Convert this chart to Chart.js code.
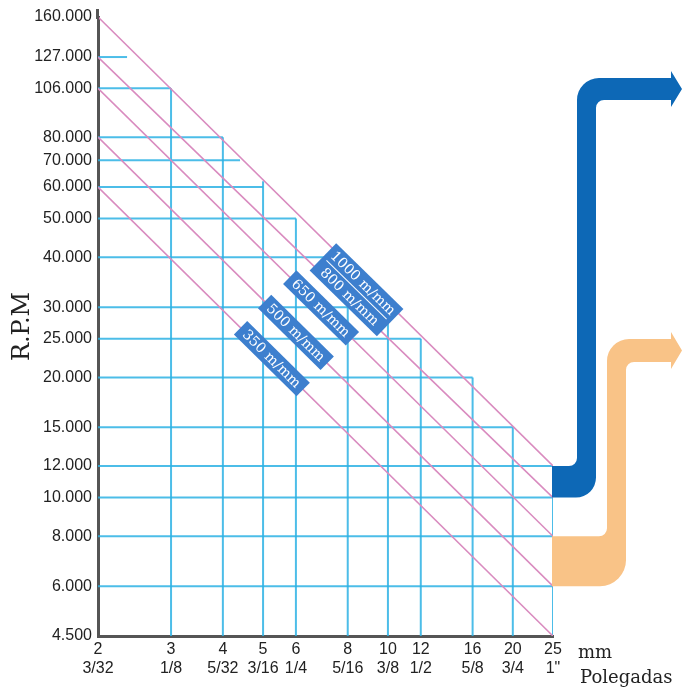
<!DOCTYPE html>
<html>
<head>
    <title>RPM x Diametro</title>
    <script src="https://cdn.jsdelivr.net/npm/chart.js"></script>
    <style>
        html, body { margin: 0; padding: 0; background: #fff; }
        #chartDiv { width: 682px; height: 689px; }
    </style>
</head>
<body>
    <div id="chartDiv"><canvas id="rpmChart"></canvas></div>
    <script>
        // diametro em mm e o equivalente em polegadas
        var mmTicks = [2, 3, 4, 5, 6, 8, 10, 12, 16, 20, 25];
        var inchTicks = ['3/32', '1/8', '5/32', '3/16', '1/4', '5/16', '3/8', '1/2', '5/8', '3/4', '1"'];
        var rpmTicks = [160000, 127000, 106000, 80000, 70000, 60000, 50000, 40000, 30000, 25000, 20000, 15000, 12000, 10000, 8000, 6000, 4500];

        // linhas de velocidade de corte: rpm em 2 mm e em 25 mm
        var speedNames = ['1000 m/mm', '800 m/mm', '650 m/mm', '500 m/mm', '350 m/mm'];
        var speedStart = [160000, 127000, 106000, 80000, 60000];
        var speedEnd = [12000, 10000, 8000, 6000, 4500];
        var speedLabelAt = [8.4, 8.4, 6.9, 6.0, 5.25];

        // grade em escada (horizontais ate hEndMm, verticais ate vTopRpm)
        var hRpm = [127000, 106000, 80000, 70000, 60000, 50000, 40000, 30000, 25000, 20000, 15000, 12000, 10000, 8000, 6000];
        var hEndMm = [2.35, 3, 4, 4.4, 5, 6, 8, 10, 12, 16, 20, 25, 25, 25, 25];
        var vMm = [3, 4, 5, 6, 8, 10, 12, 16, 20, 25];
        var vTopRpm = [106000, 80000, 62000, 50000, 40000, 30000, 25000, 20000, 15000, 12000];

        function fmt(v) {
            return String(v).replace(/\B(?=(\d{3})+(?!\d))/g, '.');
        }

        var datasets = [];
        for (var i = 0; i < speedNames.length; i++) {
            datasets.push({
                label: speedNames[i],
                data: [{x: 2, y: speedStart[i]}, {x: 25, y: speedEnd[i]}],
                borderColor: '#d98bbf',
                borderWidth: 1.6,
                order: 0
            });
        }
        for (var i = 0; i < hRpm.length; i++) {
            datasets.push({
                data: [{x: 2, y: hRpm[i]}, {x: hEndMm[i], y: hRpm[i]}],
                borderColor: 'rgba(45,178,228,0.85)',
                borderWidth: 2,
                order: 1
            });
        }
        for (var i = 0; i < vMm.length; i++) {
            datasets.push({
                data: [{x: vMm[i], y: 4500}, {x: vMm[i], y: vTopRpm[i]}],
                borderColor: 'rgba(45,178,228,0.85)',
                borderWidth: 2,
                order: 1
            });
        }

        function rpmOnLine(i, mm) {
            var k = Math.log(speedEnd[i] / speedStart[i]) / Math.log(25 / 2);
            return speedStart[i] * Math.pow(mm / 2, k);
        }

        function drawTag(ctx, cx, cy, angle, lines, w) {
            var lh = 19;
            var h = lines.length * lh;
            ctx.save();
            ctx.translate(cx, cy);
            ctx.rotate(angle);
            ctx.fillStyle = '#3d7fce';
            ctx.fillRect(-w / 2, -h / 2, w, h);
            ctx.fillStyle = '#fff';
            ctx.font = '14px "DejaVu Serif"';
            ctx.textAlign = 'center';
            ctx.textBaseline = 'middle';
            for (var j = 0; j < lines.length; j++) {
                ctx.fillText(lines[j], 0, -h / 2 + lh / 2 + j * lh + 1);
            }
            if (lines.length > 1) {
                ctx.strokeStyle = '#fff';
                ctx.lineWidth = 1;
                ctx.beginPath();
                ctx.moveTo(-w / 2 + 5, 0);
                ctx.lineTo(w / 2 - 5, 0);
                ctx.stroke();
            }
            ctx.restore();
        }

        function drawArrow(ctx, color, x0, yb1, yb2, xv1, xv2, yt1, yt2, xh, xtip, ro) {
            var ri = 8, hh = 7;
            ctx.fillStyle = color;
            ctx.beginPath();
            ctx.moveTo(x0, yb1);
            ctx.arcTo(xv1, yb1, xv1, yt1, ri);
            ctx.arcTo(xv1, yt1, xh, yt1, 22);
            ctx.lineTo(xh, yt1);
            ctx.lineTo(xh, yt1 - hh);
            ctx.lineTo(xtip, (yt1 + yt2) / 2);
            ctx.lineTo(xh, yt2 + hh);
            ctx.lineTo(xh, yt2);
            ctx.arcTo(xv2, yt2, xv2, yb2, ri);
            ctx.arcTo(xv2, yb2, x0, yb2, ro);
            ctx.lineTo(x0, yb2);
            ctx.closePath();
            ctx.fill();
        }

        var extras = {
            id: 'extras',
            afterDatasetsDraw: function (chart) {
                var ctx = chart.ctx;
                var xs = chart.scales.x, ys = chart.scales.y;
                var area = chart.chartArea;

                // eixo y um pouco acima do topo
                ctx.save();
                ctx.strokeStyle = '#555';
                ctx.lineWidth = 3;
                ctx.beginPath();
                ctx.moveTo(area.left - 0.5, area.top - 8);
                ctx.lineTo(area.left - 0.5, area.top + 2);
                ctx.stroke();
                ctx.restore();

                // setas
                var x0 = area.right - 1;
                drawArrow(ctx, '#0d68b6', x0, ys.getPixelForValue(12000), ys.getPixelForValue(10000),
                    577, 596, 78, 100, 671, chart.width, 20);
                drawArrow(ctx, '#f9c387', x0, ys.getPixelForValue(8000), ys.getPixelForValue(6000),
                    607, 626, 339, 362, 671, chart.width, 26);

                // etiquetas das linhas
                var ang = [];
                for (var i = 0; i < speedNames.length; i++) {
                    var ax = xs.getPixelForValue(2), ay = ys.getPixelForValue(speedStart[i]);
                    var bx = xs.getPixelForValue(25), by = ys.getPixelForValue(speedEnd[i]);
                    ang.push(Math.atan2(by - ay, bx - ax));
                }
                var p0x = xs.getPixelForValue(speedLabelAt[0]);
                var p0y = ys.getPixelForValue(rpmOnLine(0, speedLabelAt[0]));
                var p1x = xs.getPixelForValue(speedLabelAt[1]);
                var p1y = ys.getPixelForValue(rpmOnLine(1, speedLabelAt[1]));
                drawTag(ctx, (p0x + p1x) / 2, (p0y + p1y) / 2, (ang[0] + ang[1]) / 2, [speedNames[0], speedNames[1]], 94);
                for (var i = 2; i < speedNames.length; i++) {
                    drawTag(ctx, xs.getPixelForValue(speedLabelAt[i]), ys.getPixelForValue(rpmOnLine(i, speedLabelAt[i])),
                        ang[i], [speedNames[i]], 88);
                }

                // unidades do eixo x
                ctx.save();
                ctx.fillStyle = '#222';
                ctx.font = '18px "DejaVu Serif"';
                ctx.textAlign = 'left';
                ctx.textBaseline = 'alphabetic';
                ctx.fillText('mm', 578, 658);
                ctx.fillText('Polegadas', 580, 683);
                ctx.restore();
            }
        };

        var rpmChart = new Chart(document.getElementById('rpmChart'), {
            type: 'scatter',
            data: {datasets: datasets},
            options: {
                responsive: true,
                maintainAspectRatio: false,
                animation: false,
                showLine: true,
                elements: {point: {radius: 0, hoverRadius: 0}, line: {tension: 0}},
                layout: {padding: {top: 17, right: 129, left: 0, bottom: 0}},
                plugins: {legend: {display: false}, tooltip: {enabled: false}},
                scales: {
                    x: {
                        type: 'logarithmic',
                        min: 2,
                        max: 25,
                        afterBuildTicks: function (scale) {
                            scale.ticks = mmTicks.map(function (v) { return {value: v}; });
                        },
                        afterFit: function (scale) { scale.height = 53; },
                        ticks: {
                            autoSkip: false,
                            maxRotation: 0,
                            padding: 4,
                            color: '#222',
                            font: {family: '"Liberation Sans", Arial', size: 16},
                            callback: function (value) {
                                var k = mmTicks.indexOf(value);
                                return [String(value), inchTicks[k]];
                            }
                        },
                        grid: {display: false, drawTicks: false},
                        border: {display: true, color: '#555', width: 3}
                    },
                    y: {
                        type: 'logarithmic',
                        min: 4500,
                        max: 160000,
                        afterBuildTicks: function (scale) {
                            scale.ticks = rpmTicks.map(function (v) { return {value: v}; });
                        },
                        afterFit: function (scale) { scale.width = 98; },
                        ticks: {
                            autoSkip: false,
                            padding: 6,
                            color: '#222',
                            font: {family: '"Liberation Sans", Arial', size: 16},
                            callback: function (value) { return fmt(value); }
                        },
                        grid: {display: false, drawTicks: false},
                        border: {display: true, color: '#555', width: 3},
                        title: {
                            display: true,
                            text: 'R.P.M',
                            color: '#222',
                            font: {family: '"DejaVu Serif"', size: 24},
                            padding: {top: 8, bottom: 0}
                        }
                    }
                }
            },
            plugins: [extras]
        });
    </script>
</body>
</html>
